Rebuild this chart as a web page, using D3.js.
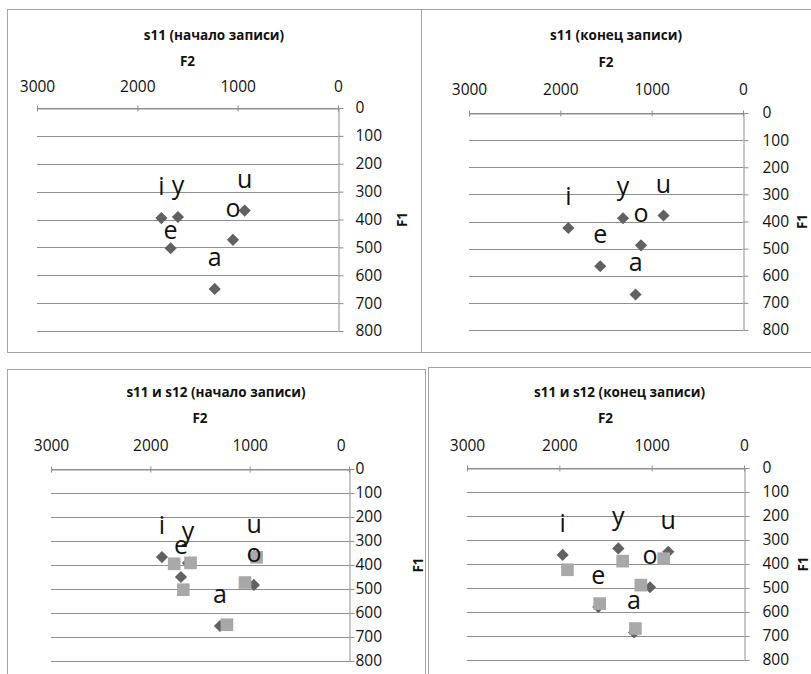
<!DOCTYPE html>
<html>
<head>
<meta charset="utf-8">
<script src="https://cdn.jsdelivr.net/npm/d3@7"></script>
<style>
  body { margin: 0; background: #fff; }
  svg { display: block; }
  text { font-family: "Open Sans", sans-serif; fill: #111; }
</style>
</head>
<body>
<svg id="chart" width="811" height="674"></svg>
<script>
// vowels in the order they are listed in every series
var vowels = ["i", "y", "e", "u", "o", "a"];

// s11, start and end of recording (F2, F1 in Hz)
var s11StartF2 = [1760, 1595, 1668, 930, 1047, 1229];
var s11StartF1 = [395, 391, 503, 368, 473, 649];
var s11EndF2 = [1912, 1314, 1563, 870, 1117, 1176];
var s11EndF1 = [424, 388, 565, 378, 488, 669];

// s12, start and end of recording
var s12StartF2 = [1883, 1621, 1692, 955, 957, 1299];
var s12StartF1 = [367, 392, 450, 362, 483, 654];
var s12EndF2 = [1964, 1361, 1578, 820, 1018, 1191];
var s12EndF1 = [362, 335, 579, 349, 497, 685];

var xTicks = [3000, 2000, 1000, 0];
var yTicks = [0, 100, 200, 300, 400, 500, 600, 700, 800];

function points(f2, f1) {
    return vowels.map(function(v, i) { return { vowel: v, f2: f2[i], f1: f1[i] }; });
}

// each chart: series drawn in order (first one carries the vowel labels)
var panels = [
    {
        title: "s11 (начало записи)",
        series: [{ data: points(s11StartF2, s11StartF1), shape: "diamond" }],
        nudge: { e: 14 },   // label moved by hand in the original
        frame: { x: 7, y: 9, w: 414, h: 343 },
        plot: { left: 37, right: 338, top: 108, bottom: 331 },
        titleY: 35, f2Y: 61, tickY: 86, yTickX: 355, f1X: 402
    },
    {
        title: "s11 (конец записи)",
        series: [{ data: points(s11EndF2, s11EndF1), shape: "diamond" }],
        nudge: {},
        frame: { x: 421, y: 9, w: 400, h: 343 },
        plot: { left: 469, right: 743, top: 113, bottom: 330 },
        titleY: 35, f2Y: 62, tickY: 89, yTickX: 762, f1X: 802
    },
    {
        title: "s11 и s12 (начало записи)",
        series: [
            { data: points(s12StartF2, s12StartF1), shape: "diamond" },
            { data: points(s11StartF2, s11StartF1), shape: "square" }
        ],
        nudge: {},
        frame: { x: 7, y: 369, w: 418, h: 320 },
        plot: { left: 51, right: 349, top: 469, bottom: 661 },
        titleY: 392, f2Y: 418, tickY: 445, yTickX: 355, f1X: 418
    },
    {
        title: "s11 и s12 (конец записи)",
        series: [
            { data: points(s12EndF2, s12EndF1), shape: "diamond" },
            { data: points(s11EndF2, s11EndF1), shape: "square" }
        ],
        nudge: {},
        frame: { x: 428, y: 367, w: 400, h: 320 },
        plot: { left: 467, right: 744, top: 468, bottom: 660 },
        titleY: 392, f2Y: 418, tickY: 445, yTickX: 762, f1X: 803
    }
];

var svg = d3.select("#chart");

var markerStyle = {
    diamond: { fill: "#616161", path: d3.symbol().type(d3.symbolSquare).size(74)(), rotate: 45 },
    square: { fill: "#a8a8a8", path: d3.symbol().type(d3.symbolSquare).size(160)(), rotate: 0 }
};

panels.forEach(function(p) {
    var g = svg.append("g");

    // chart area
    g.append("rect")
        .attr("x", p.frame.x + 0.5)
        .attr("y", p.frame.y + 0.5)
        .attr("width", p.frame.w)
        .attr("height", p.frame.h)
        .attr("fill", "#fff")
        .attr("stroke", "#a3a3a3");

    var x = d3.scaleLinear().domain([3000, 0]).range([p.plot.left, p.plot.right]);
    var y = d3.scaleLinear().domain([0, 800]).range([p.plot.top, p.plot.bottom]);

    // horizontal gridlines
    g.append("g")
        .selectAll("line")
        .data(yTicks)
        .enter()
        .append("line")
        .attr("x1", x(3000))
        .attr("x2", x(0))
        .attr("y1", d => Math.round(y(d)) + 0.5)
        .attr("y2", d => Math.round(y(d)) + 0.5)
        .attr("stroke", "#8f8f8f");

    // F2 axis on top (reversed)
    var xAxis = g.append("g")
        .attr("transform", "translate(0," + (Math.round(y(0)) + 0.5) + ")")
        .call(d3.axisTop(x).tickValues(xTicks).tickFormat(d3.format("d")).tickSizeOuter(0));
    xAxis.select(".domain").attr("stroke", "#8f8f8f");
    xAxis.selectAll(".tick line").attr("stroke", "#8f8f8f").attr("y1", -3).attr("y2", 3);
    xAxis.selectAll(".tick text")
        .attr("y", p.tickY - y(0))
        .attr("dy", "0.35em")
        .attr("font-size", "15.5px")
        .attr("fill", "#111")
        .attr("dx", function(d) {
            // the end label is pushed left so it clears the F1 labels
            var w = this.getComputedTextLength();
            var over = x(d) + w / 2 - (p.yTickX - 10);
            return over > 0 ? -over : 0;
        });

    // F1 axis on the right
    var yAxis = g.append("g")
        .attr("transform", "translate(" + (Math.round(x(0)) + 0.5) + ",0)")
        .call(d3.axisRight(y).tickValues(yTicks).tickFormat(d3.format("d")).tickSize(5).tickSizeOuter(0));
    yAxis.select(".domain").attr("stroke", "#8f8f8f");
    yAxis.selectAll(".tick line").attr("stroke", "#8f8f8f");
    yAxis.selectAll(".tick text")
        .attr("x", p.yTickX - x(0))
        .attr("font-size", "15.5px")
        .attr("fill", "#111");

    // titles
    g.append("text")
        .attr("x", p.frame.x + p.frame.w / 2 - (p.frame.x + p.frame.w > 811 ? (p.frame.x + p.frame.w - 811) / 2 : 0))
        .attr("y", p.titleY)
        .attr("dy", "0.35em")
        .attr("text-anchor", "middle")
        .attr("font-size", "13.5px")
        .attr("font-weight", "bold")
        .text(p.title);

    g.append("text")
        .attr("x", (p.plot.left + p.plot.right) / 2)
        .attr("y", p.f2Y)
        .attr("dy", "0.35em")
        .attr("text-anchor", "middle")
        .attr("font-size", "13.5px")
        .attr("font-weight", "bold")
        .text("F2");

    g.append("text")
        .attr("transform", "translate(" + p.f1X + "," + (p.plot.top + p.plot.bottom) / 2 + ") rotate(-90)")
        .attr("dy", "0.35em")
        .attr("text-anchor", "middle")
        .attr("font-size", "13.5px")
        .attr("font-weight", "bold")
        .text("F1");

    // markers
    p.series.forEach(function(s) {
        var m = markerStyle[s.shape];
        g.append("g")
            .selectAll("path")
            .data(s.data)
            .enter()
            .append("path")
            .attr("d", m.path)
            .attr("fill", m.fill)
            .attr("transform", d => "translate(" + x(d.f2) + "," + y(d.f1) + ") rotate(" + m.rotate + ")");
    });

    // vowel labels above the first series
    g.append("g")
        .selectAll("text")
        .data(p.series[0].data)
        .enter()
        .append("text")
        .attr("x", d => x(d.f2))
        .attr("y", d => y(d.f1) - 23 + (p.nudge[d.vowel] || 0))
        .attr("text-anchor", "middle")
        .attr("font-size", "25px")
        .attr("fill", "#000")
        .text(d => d.vowel);
});
</script>
</body>
</html>
